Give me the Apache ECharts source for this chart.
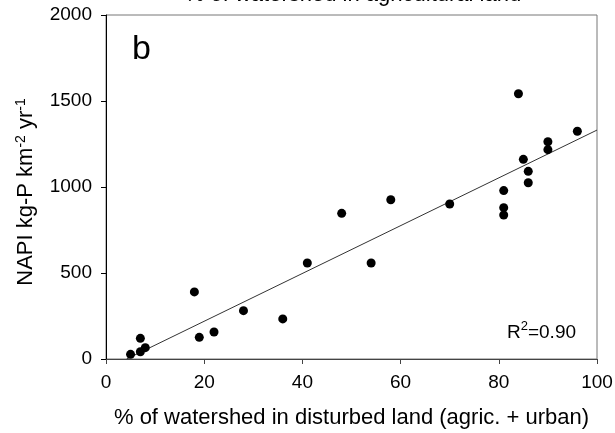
<!DOCTYPE html>
<html>
<head>
<meta charset="utf-8">
<script src="https://cdn.jsdelivr.net/npm/echarts@6/dist/echarts.min.js"></script>
<style>
html,body{margin:0;padding:0;background:#fff;}
#c{width:615px;height:433px;}
</style>
</head>
<body>
<div id="c"></div>
<script>
// Data
var disturbedPct = [5, 7, 7, 8, 18, 19, 22, 28, 36, 41, 48, 54, 58, 70, 81, 81, 81, 84, 85, 86, 86, 90, 90, 96];
var napi = [27, 120, 42, 66, 390, 126, 157, 281, 233, 558, 847, 558, 926, 901, 979, 880, 837, 1542, 1161, 1091, 1025, 1263, 1217, 1324];
var fitX = [4.2, 100];
var fitY = [0, 1331];
var xTicks = [0, 20, 40, 60, 80, 100];
var yTicks = [0, 500, 1000, 1500, 2000];
var xName = '% of watershed in disturbed land (agric. + urban)';
var topTitle = '% of watershed in agricultural land';
var panelLabel = 'b';
var r2Text = '0.90';

var FONT = 'Liberation Sans, Arial, sans-serif';
var points = disturbedPct.map(function (x, i) { return [x, napi[i]]; });
var fitLine = fitX.map(function (x, i) { return [x, fitY[i]]; });

var chart = echarts.init(document.getElementById('c'), null, {renderer: 'canvas'});
chart.setOption({
  animation: false,
  backgroundColor: '#fff',
  grid: {left: 106, right: 18, top: 15, bottom: 74, show: true, borderColor: '#777', borderWidth: 1,
         containLabel: false, outerBoundsMode: 'none'},
  xAxis: {
    type: 'value', min: xTicks[0], max: xTicks[xTicks.length - 1], interval: 20,
    name: xName, nameLocation: 'middle', nameGap: 48, nameMoveOverlap: false,
    nameTextStyle: {color: '#000', fontSize: 22, fontFamily: FONT},
    axisLine: {lineStyle: {color: '#444', width: 1}},
    axisTick: {show: true, length: 5, lineStyle: {color: '#444'}},
    axisLabel: {color: '#000', fontSize: 19, fontFamily: FONT, margin: 14},
    splitLine: {show: false}
  },
  yAxis: {
    type: 'value', min: yTicks[0], max: yTicks[yTicks.length - 1], interval: 500,
    axisLine: {show: true, lineStyle: {color: '#000', width: 1}},
    axisTick: {show: true, length: 5, lineStyle: {color: '#000'}},
    axisLabel: {color: '#000', fontSize: 19, fontFamily: FONT, margin: 14,
      formatter: function (v) { return String(v); }},
    splitLine: {show: false}
  },
  graphic: [
    {type: 'text', silent: true, x: 353, y: -5, style: {
      text: topTitle, align: 'center', verticalAlign: 'middle',
      fill: '#000', font: '22px ' + FONT}},
    {type: 'text', silent: true, x: 132, y: 33, style: {
      text: panelLabel, fill: '#000', font: '34px ' + FONT, verticalAlign: 'top'}},
    {type: 'text', silent: true, x: 507, y: 320, style: {
      text: '{a|R}{s|2}{a|=' + r2Text + '}', fill: '#000', verticalAlign: 'top',
      rich: {
        a: {fontSize: 19, fontFamily: FONT, lineHeight: 22, verticalAlign: 'bottom'},
        s: {fontSize: 13, fontFamily: FONT, lineHeight: 13, verticalAlign: 'top'}
      }}},
    {type: 'text', silent: true, x: 25.5, y: 192, rotation: Math.PI / 2, style: {
      text: '{a|NAPI kg-P km}{s|-2}{a| yr}{s|-1}', fill: '#000', align: 'center', verticalAlign: 'middle',
      rich: {
        a: {fontSize: 22, fontFamily: FONT, lineHeight: 22, verticalAlign: 'bottom'},
        s: {fontSize: 14, fontFamily: FONT, lineHeight: 14, padding: [0, 0, 14, 0], verticalAlign: 'top'}
      }}}
  ],
  series: [
    {type: 'line', data: fitLine, showSymbol: false, symbol: 'none', silent: true,
     lineStyle: {color: '#333', width: 1}, z: 1},
    {type: 'scatter', data: points, symbol: 'circle', symbolSize: 9,
     itemStyle: {color: '#000', opacity: 1}, z: 2}
  ]
});
</script>
</body>
</html>
